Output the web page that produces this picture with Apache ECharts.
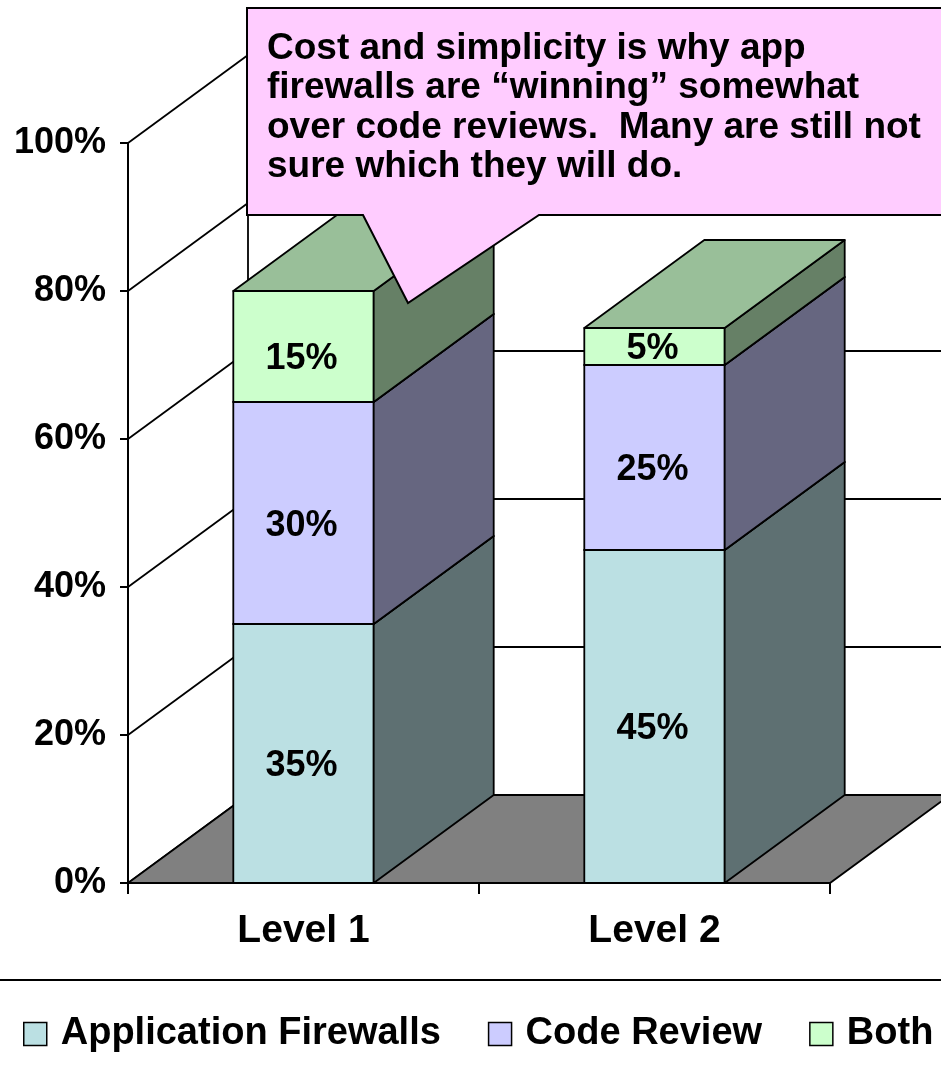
<!DOCTYPE html>
<html>
<head>
<meta charset="utf-8">
<script src="https://cdn.jsdelivr.net/npm/echarts@6/dist/echarts.min.js"></script>
<style>
html,body{margin:0;padding:0;background:#fff;}
#chart{width:941px;height:1076px;}
</style>
</head>
<body>
<div id="chart"></div>
<script>
// ---- data ----
const categories = ['Level 1', 'Level 2'];
const appFirewalls = [35, 45];
const codeReview = [30, 25];
const both = [15, 5];
const yTicks = [0, 20, 40, 60, 80, 100];
const seriesNames = ['Application Firewalls', 'Code Review', 'Both'];
const calloutLines = [
  'Cost and simplicity is why app',
  'firewalls are \u201cwinning\u201d somewhat',
  'over code reviews.  Many are still not',
  'sure which they will do.'
];

// ---- style ----
const FONT = '"Liberation Sans", Arial, Helvetica, sans-serif';
const DEPTH_X = 120, DEPTH_Y = 88;   // 3D depth offset (px)
const BAR_RATIO = 0.40;              // bar width as fraction of band
const palette = [
  { front: '#BBE0E3', side: '#5E7072', top: '#8CA8AA' },
  { front: '#CCCCFF', side: '#666680', top: '#9999BF' },
  { front: '#CCFFCC', side: '#668066', top: '#99BF99' }
];

const seriesValues = [appFirewalls, codeReview, both];
// stacked bases built from the arrays
const stacked = seriesValues.map((vals, si) =>
  vals.map((v, ci) => {
    let base = 0;
    for (let k = 0; k < si; k++) base += seriesValues[k][ci];
    return [ci, base, base + v, v];
  })
);

function renderWalls(params, api) {
  const cs = params.coordSys;
  const left = cs.x, right = cs.x + cs.width;
  const y0 = api.coord([0, yTicks[0]])[1];
  const yTop = api.coord([0, yTicks[yTicks.length - 1]])[1];
  const children = [];
  const lineStyle = { stroke: '#000', lineWidth: 1.8 };
  yTicks.forEach(v => {
    const y = api.coord([0, v])[1];
    children.push({ type: 'line', shape: { x1: left, y1: y, x2: left + DEPTH_X, y2: y - DEPTH_Y }, style: lineStyle });
    children.push({ type: 'line', shape: { x1: left + DEPTH_X, y1: y - DEPTH_Y, x2: right + DEPTH_X + 20, y2: y - DEPTH_Y }, style: lineStyle });
  });
  children.push({ type: 'line', shape: { x1: left + DEPTH_X, y1: y0 - DEPTH_Y, x2: left + DEPTH_X, y2: yTop - DEPTH_Y }, style: lineStyle });
  children.push({
    type: 'polygon',
    shape: { points: [[left, y0], [right, y0], [right + DEPTH_X, y0 - DEPTH_Y], [left + DEPTH_X, y0 - DEPTH_Y]] },
    style: { fill: '#808080', stroke: '#000', lineWidth: 1.8 }
  });
  return { type: 'group', children };
}

function makeRender(si) {
  const col = palette[si];
  return function (params, api) {
    const ci = api.value(0), b = api.value(1), t = api.value(2), v = api.value(3);
    const p0 = api.coord([ci, b]);
    const p1 = api.coord([ci, t]);
    const bw = api.size([1, 0])[0] * BAR_RATIO;
    const x0 = p0[0] - bw / 2, x1 = x0 + bw;
    const yb = p0[1], yt = p1[1];
    const st = { stroke: '#000', lineWidth: 1.8, lineJoin: 'round' };
    const segH = yb - yt;
    const off = Math.max(0, Math.min(13, (segH - 31) / 2));
    return {
      type: 'group',
      children: [
        { type: 'polygon', shape: { points: [[x0, yb], [x1, yb], [x1, yt], [x0, yt]] }, style: Object.assign({ fill: col.front }, st) },
        { type: 'polygon', shape: { points: [[x1, yb], [x1 + DEPTH_X, yb - DEPTH_Y], [x1 + DEPTH_X, yt - DEPTH_Y], [x1, yt]] }, style: Object.assign({ fill: col.side }, st) },
        { type: 'polygon', shape: { points: [[x0, yt], [x1, yt], [x1 + DEPTH_X, yt - DEPTH_Y], [x0 + DEPTH_X, yt - DEPTH_Y]] }, style: Object.assign({ fill: col.top }, st) },
        { type: 'text', style: { text: v + '%', x: (x0 + x1) / 2 - 2, y: (yb + yt) / 2 + off, align: 'center', verticalAlign: 'middle', font: 'bold 36px ' + FONT, fill: '#000' } }
      ]
    };
  };
}

const chart = echarts.init(document.getElementById('chart'), null, { renderer: 'canvas' });
const option = {
  animation: false,
  backgroundColor: '#fff',
  grid: { left: 128, right: 111, top: 143, bottom: 193, containLabel: false },
  xAxis: {
    type: 'category',
    data: categories,
    axisLine: { lineStyle: { color: '#000', width: 2 } },
    axisTick: { show: true, length: 11, lineStyle: { color: '#000', width: 2 } },
    axisLabel: { color: '#000', fontSize: 39, fontWeight: 'bold', fontFamily: FONT, margin: 29 },
    splitLine: { show: false }
  },
  yAxis: {
    type: 'value',
    min: 0, max: 100, interval: 20,
    axisLine: { show: true, lineStyle: { color: '#000', width: 2 } },
    axisTick: { show: true, length: 8, lineStyle: { color: '#000', width: 2 } },
    axisLabel: { color: '#000', fontSize: 36, fontWeight: 'bold', fontFamily: FONT, margin: 22, formatter: '{value}%' },
    splitLine: { show: false }
  },
  legend: {
    data: seriesNames.map((n, i) => ({ name: n, itemStyle: { color: palette[i].front, borderColor: '#000', borderWidth: 1.5 } })),
    left: 18, top: 1010, width: 1000,
    icon: 'rect',
    itemWidth: 23, itemHeight: 23, itemGap: 47,
    textStyle: { color: '#000', fontSize: 38, fontWeight: 'bold', fontFamily: FONT, padding: [0, 0, 0, 9] }
  },
  graphic: [
    { type: 'rect', z: 50, silent: true, shape: { x: -10, y: 980, width: 961, height: 200 }, style: { fill: 'none', stroke: '#000', lineWidth: 2 } },
    { type: 'polygon', z: 100, silent: true,
      shape: { points: [[247, 8], [960, 8], [960, 215], [539, 215], [408, 303], [363, 215], [247, 215]] },
      style: { fill: '#FFCCFF', stroke: '#000', lineWidth: 2 } },
    { type: 'text', z: 101, silent: true,
      style: { text: calloutLines.join('\n'), x: 267, y: 29, font: 'bold 37px ' + FONT, fill: '#000', lineHeight: 39.5, verticalAlign: 'top' } }
  ],
  series: [
    { type: 'custom', name: '_walls', renderItem: renderWalls, data: [[0]], silent: true, z: 1 }
  ].concat(seriesNames.map((n, si) => ({
    type: 'custom', name: n, renderItem: makeRender(si), data: stacked[si], z: 2,
    encode: { x: 0, y: [1, 2] },
    itemStyle: { color: palette[si].front, borderColor: '#000' }
  })))
};
chart.setOption(option);
</script>
</body>
</html>
